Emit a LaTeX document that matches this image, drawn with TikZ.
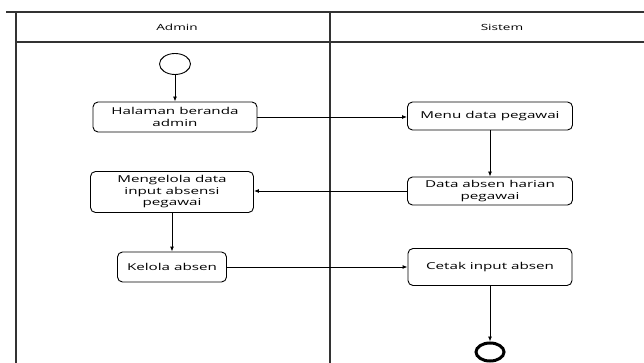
\documentclass[tikz,border=0pt]{standalone}
\usepackage{fontspec}
\setmainfont[FakeStretch=1.6]{Open Sans}
\usepackage{tikz}
\usetikzlibrary{calc}
\usetikzlibrary{shapes}
\usetikzlibrary{arrows.meta}
\tikzset{activity/.style={draw, rounded corners=5pt, line width=0.9pt, align=center,
    inner sep=1pt, font=\fontsize{9.5}{11.5}\selectfont},
  flow/.style={line width=0.9pt, -{Latex[length=5pt,width=4pt]}},
  lane/.style={line width=1.4pt, draw=black!80}}

\begin{document}
\begin{tikzpicture}[x=1pt,y=-1pt]
\useasboundingbox (0,0) rectangle (644,363);
% swimlanes
\draw[lane] (6,12) -- (644,12);
\draw[lane] (16,42) -- (644,42);
\draw[lane, line width=2.2pt] (16,12) -- (16,363);
\draw[lane] (330,12) -- (330,363);
\node[font=\fontsize{8.5}{10}\selectfont] (admin) at (177,27) {Admin};
\node[font=\fontsize{8.5}{10}\selectfont] (sistem) at (502,27) {Sistem};

\node[ellipse, draw, line width=0.9pt, minimum width=31pt, minimum height=21pt, inner sep=0pt] (start) at (175,64) {};
\node[activity, minimum width=164pt, minimum height=30pt] (halaman) at (175,117) {Halaman beranda\\admin};
\node[activity, minimum width=165pt, minimum height=28pt] (menu) at (490,116) {Menu data pegawai};
\node[activity, minimum width=165pt, minimum height=28pt] (dataabsen) at (490,191) {Data absen harian\\pegawai};
\node[activity, minimum width=163pt, minimum height=41pt] (mengelola) at (172,192) {Mengelola data\\input absensi\\pegawai};
\node[activity, minimum width=109pt, minimum height=30pt] (kelola) at (172,267) {Kelola absen};
\node[activity, minimum width=164pt, minimum height=37pt] (cetak) at (490,267) {Cetak input absen};
\node[ellipse, draw, line width=3pt, minimum width=28pt, minimum height=18pt, inner sep=0pt] (stop) at (490,352) {};

\draw[flow] (start) -- (halaman);
\draw[flow] (halaman.east) -- (halaman.east -| menu.west);
\draw[flow] (menu) -- (dataabsen);
\draw[flow] (dataabsen.west) -- (dataabsen.west -| mengelola.east);
\draw[flow] (mengelola) -- (kelola);
\draw[flow] (kelola.east) -- (kelola.east -| cetak.west);
\draw[flow] (cetak) -- (stop);
\end{tikzpicture}
\end{document}
